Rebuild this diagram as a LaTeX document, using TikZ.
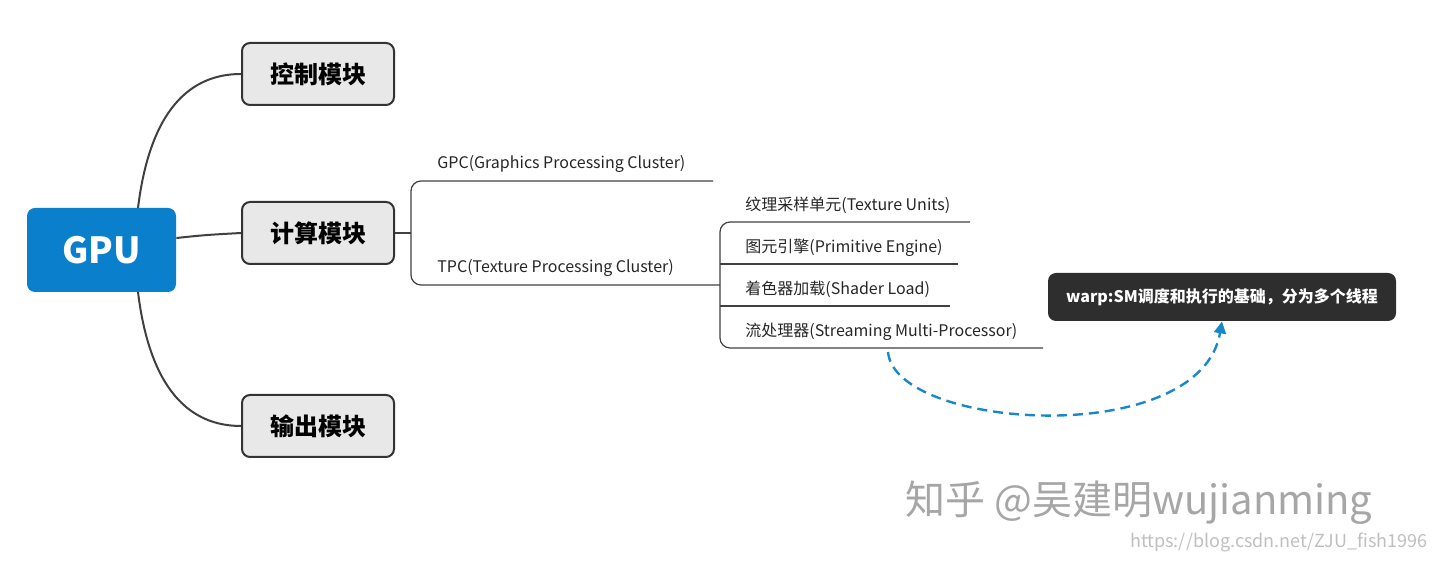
\documentclass[tikz,border=0pt]{standalone}
\usepackage{fontspec}
\setmainfont{Noto Sans CJK SC}
\usetikzlibrary{arrows.meta}
\definecolor{gpublue}{HTML}{0A7FCC}
\definecolor{boxgray}{HTML}{E8E8E8}
\definecolor{dashblue}{HTML}{1A88C8}
\begin{document}
\begin{tikzpicture}[x=0.5pt,y=-0.5pt,
  mod/.style={draw=black!80,line width=1pt,fill=boxgray,rounded corners=4pt,minimum width=76pt,minimum height=31pt,font=\fontsize{12}{14}\selectfont\bfseries},
  lbl/.style={anchor=base west,inner sep=0,font=\fontsize{8}{10}\selectfont,text=black!85},
  ln/.style={draw=black!75,line width=0.6pt},
  br/.style={ln,rounded corners=5pt}]
\useasboundingbox (0,0) rectangle (1440,565);
\node[fill=gpublue,rounded corners=4pt,minimum width=74.5pt,minimum height=42pt,text=white,font=\fontsize{18}{20}\selectfont\bfseries] (gpu) at (101.5,250) {GPU};
\node[mod] (ctl) at (318,74) {控制模块};
\node[mod] (cmp) at (318,233) {计算模块};
\node[mod] (out) at (318,426) {输出模块};
\coordinate (g1) at (138,208);
\coordinate (g2) at (138,292);
\draw[ln,line width=1pt] (g1) .. controls (150,110) and (190,74) .. (ctl.west);
\draw[ln,line width=1pt] (gpu.east |- 0,238) .. controls (205,235) .. (cmp.west);
\draw[ln,line width=1pt] (g2) .. controls (150,390) and (190,426) .. (out.west);
% bracket 1
\coordinate (b1) at (411,233);
\coordinate (gpcE) at (713,181);
\coordinate (tpcE) at (720,285);
\draw[ln] (cmp.east) -- (b1);
\draw[br] (gpcE) -- (411,181) -- (411,285) -- (tpcE);
\node[lbl] (gpc) at (437,169) {GPC(Graphics Processing Cluster)};
\node[lbl] (tpc) at (437,273) {TPC(Texture Processing Cluster)};
% bracket 2
\coordinate (t1) at (970,222);
\coordinate (t2) at (958,264);
\coordinate (t3) at (950,306);
\coordinate (t4) at (1043,348);
\draw[br] (t1) -- (720,222) -- (720,348) -- (t4);
\draw[ln] (720,264) -- (t2);
\draw[ln] (720,306) -- (t3);
\node[lbl] (u1) at (745,211) {纹理采样单元(Texture Units)};
\node[lbl] (u2) at (745,253) {图元引擎(Primitive Engine)};
\node[lbl] (u3) at (745,295) {着色器加载(Shader Load)};
\node[lbl] (u4) at (745,337) {流处理器(Streaming Multi-Processor)};
\node[fill=black!82,rounded corners=4pt,minimum width=174pt,minimum height=24pt,text=white,font=\fontsize{8}{10}\selectfont\bfseries] (warp) at (1222,297) {warp:SM调度和执行的基础，分为多个线程};
\coordinate (ds) at (888,352);
\draw[dashblue,line width=1.2pt,dash pattern=on 5pt off 3pt,-{Triangle[length=6pt,width=6pt]}]
  (ds) .. controls (895,430) and (1200,450) .. (warp.south);
\node[font=\fontsize{20}{24}\selectfont,text=black!35,anchor=base west,inner sep=0] (wm) at (905,515) {知乎 @吴建明wujianming};
\node[font=\fontsize{9}{11}\selectfont,text=black!25,anchor=base east,inner sep=0] (csdn) at (1428,548) {https://blog.csdn.net/ZJU\_fish1996};
\end{tikzpicture}
\end{document}
